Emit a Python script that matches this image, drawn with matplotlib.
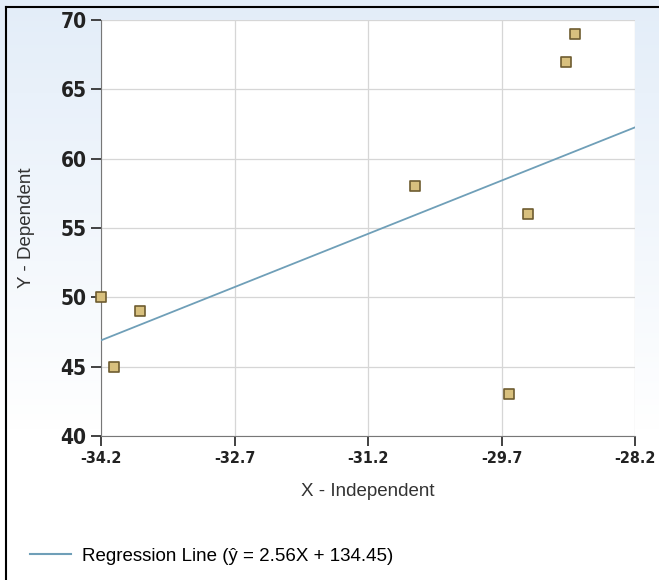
import numpy as np
import matplotlib.pyplot as plt
from matplotlib.lines import Line2D

# data
x_vals = [-34.2, -34.05, -33.76, -30.67, -29.62, -29.40, -28.98, -28.87]
y_vals = [50, 45, 49, 58, 43, 56, 67, 69]
slope = 2.56
intercept = 134.45
x_ticks = [-34.2, -32.7, -31.2, -29.7, -28.2]
y_ticks = [40, 45, 50, 55, 60, 65, 70]

fig = plt.figure(figsize=(6.59, 5.8), dpi=100)

# background gradient (light blue at top fading to white)
bg = fig.add_axes([0, 0, 1, 1], zorder=-10)
grad = np.linspace(0, 1, 256).reshape(-1, 1)
top = np.array([0.89, 0.93, 0.975])
bottom = np.array([1.0, 1.0, 1.0])
ramp = np.clip(grad * 1.35, 0, 1)
img = top + (bottom - top) * ramp[:, :, None]
bg.imshow(img, aspect='auto', extent=[0, 1, 0, 1], origin='upper')
bg.set_xlim(0, 1)
bg.set_ylim(0, 1)
bg.axis('off')
# thin black frame at top / left edges
bg.plot([0.009, 0.009], [0, 0.988], color='black', lw=1.5)
bg.plot([0.009, 1.0], [0.988, 0.988], color='black', lw=1.5)

ax = fig.add_axes([0.1533, 0.2483, 0.8103, 0.7172])
ax.set_facecolor('white')

xl = np.array([x_ticks[0], x_ticks[-1]])
ax.plot(xl, slope * xl + intercept, color='#6f9fb8', lw=1.3, zorder=3)
ax.scatter(x_vals, y_vals, marker='s', s=60, facecolor='#d8c07e',
           edgecolor='#6e5c30', linewidths=1.2, zorder=4, clip_on=False)

ax.set_xlim(x_ticks[0], x_ticks[-1])
ax.set_ylim(40, 70)
ax.set_xticks(x_ticks)
ax.set_xticklabels([f'{t:.1f}' for t in x_ticks], fontsize=11.5, fontweight='bold',
                   fontstretch='condensed', color='#222222')
ax.set_yticks(y_ticks)
ax.set_yticklabels([str(t) for t in y_ticks], fontsize=15, fontweight='bold',
                   fontstretch='condensed', color='#222222')
ax.grid(True, color='#d6d6d6', lw=0.9)
ax.set_axisbelow(True)
for s in ['top', 'right']:
    ax.spines[s].set_visible(False)
for s in ['left', 'bottom']:
    ax.spines[s].set_color('#777777')
ax.tick_params(axis='both', direction='out', length=7, width=1.3, color='#333333')
ax.tick_params(axis='x', pad=4)

ax.set_xlabel('X - Independent', fontsize=13.5, family='Liberation Sans',
              color='#333333', labelpad=12)
ax.set_ylabel('Y - Dependent', fontsize=13.5, family='Liberation Sans',
              color='#333333', labelpad=18)

handle = Line2D([], [], color='#6f9fb8', lw=1.5)
fig.legend([handle], [f'Regression Line (ŷ = {slope}X + {intercept})'],
           loc='lower left', bbox_to_anchor=(0.02, -0.003), frameon=False,
           prop={'family': 'Liberation Sans', 'size': 13.5}, handlelength=2.2,
           handletextpad=0.55)

plt.savefig('out.png', dpi=100)
